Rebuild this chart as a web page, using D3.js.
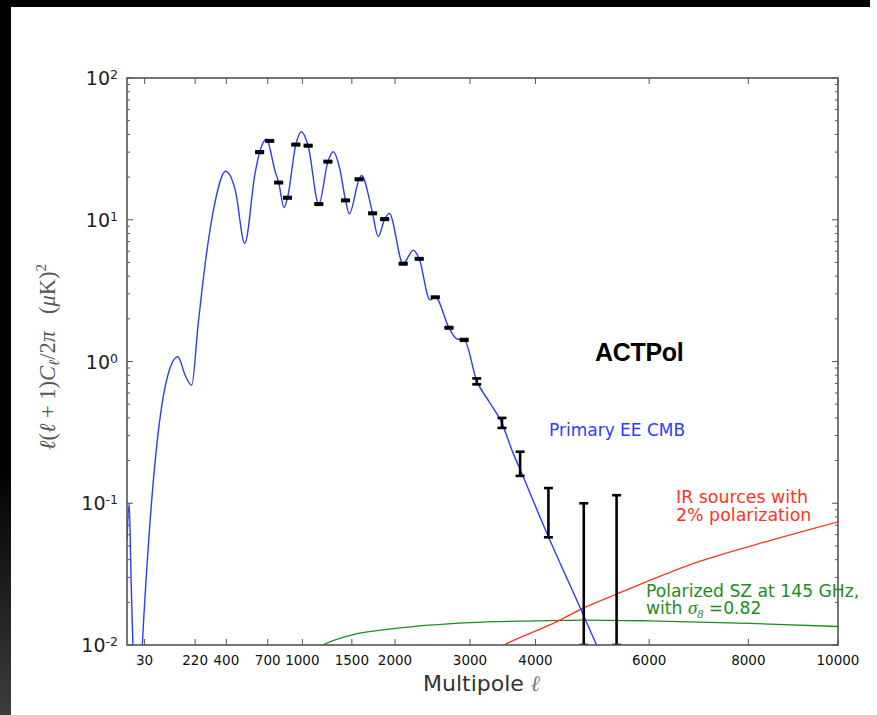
<!DOCTYPE html>
<html>
<head>
<meta charset="utf-8">
<script src="https://cdn.jsdelivr.net/npm/d3@7"></script>
<style>
  body { margin: 0; background: #fff; }
  svg { display: block; }
</style>
</head>
<body>
<svg id="chart" width="877" height="715"></svg>
<script>

// Tick values for both axes.
var xTickVals = [30, 220, 400, 700, 1000, 1500, 2000, 3000, 4000, 6000, 8000, 10000];
var yTickExps = [-2, -1, 0, 1, 2];

// Primary EE CMB model curve.
var eeEll = [2, 4, 6, 8.4, 14, 25, 40, 72, 100, 140, 172, 203, 235, 276, 328, 395, 460, 525, 600, 636,
             689, 760, 790, 836, 866, 940, 990, 1054, 1157, 1248, 1301, 1370, 1432, 1472, 1580, 1606,
             1733, 1797, 1875, 1930, 2100, 2228, 2305, 2446, 2516, 2703, 2814, 2916, 3097, 3280, 3474, 3625,
             3772, 4211, 4740, 5036, 5400];
var eeVal = [0.055, 0.1, 0.03, 0.01, 0.0012, 0.01, 0.055, 0.386, 0.8, 1.08, 0.8, 0.68, 1.8, 5.2, 13, 22, 16, 6.8, 21, 30,
             37, 22, 18.3, 12.2, 14.3, 33.9, 41.8, 33.3, 12.9, 25.7, 30.2, 23, 13.7, 11.0, 19.3, 20.5,
             11.1, 7.6, 10.1, 11.1, 4.9, 6.1, 5.3, 2.72, 2.85, 1.73, 1.44, 1.42, 0.73, 0.52, 0.366, 0.238,
             0.166, 0.058, 0.0186, 0.01, 0.005];

// ACTPol forecast band powers (error bars).
var binEll = [636, 716, 790, 866, 940, 1054, 1157, 1248, 1432, 1580, 1733, 1875, 2101, 2305, 2516, 2703,
              2916, 3097, 3474, 3755, 4211, 4810, 5394];
var binLo = [29.6, 35.6, 18.1, 14.13, 33.5, 32.9, 12.75, 25.4, 13.54, 19.07, 10.97, 9.98, 4.84, 5.24, 2.81, 1.71,
             1.40, 0.69, 0.34, 0.156, 0.0575, 0.01, 0.01];
var binHi = [30.4, 36.4, 18.5, 14.47, 34.3, 33.7, 13.05, 26.0, 13.86, 19.53, 11.23, 10.22, 4.96, 5.36, 2.87, 1.75,
             1.44, 0.76, 0.40, 0.231, 0.128, 0.1, 0.114];

// IR sources with 2% polarization.
var irEll = [3000, 3500, 4350, 4800, 5400, 7000, 8500, 10000];
var irVal = [0.0075, 0.01, 0.0146, 0.0182, 0.0229, 0.039, 0.055, 0.074];

// Polarized SZ at 145 GHz.
var szEll = [1000, 1199, 1503, 2005, 3000, 4000, 4810, 6000, 8000, 10000];
var szVal = [0.008, 0.01, 0.0118, 0.0131, 0.0144, 0.0148, 0.015, 0.0148, 0.0142, 0.0135];

var svg = d3.select('#chart');
var W = 877, H = 715;
var plotL = 127, plotR = 838, plotT = 78, plotB = 645;

var blue = '#2a3cff', red = '#ff3322', green = '#1e8c1e', axisCol = '#555';

// Dark frame round the slide.
var defs = svg.append('defs');
var grad = defs.append('linearGradient')
  .attr('id', 'sideGrad').attr('x1', 0).attr('y1', 0).attr('x2', 0).attr('y2', 1);
grad.append('stop').attr('offset', '0').attr('stop-color', '#000');
grad.append('stop').attr('offset', '0.65').attr('stop-color', '#000');
grad.append('stop').attr('offset', '1').attr('stop-color', '#3c3c3c');

svg.append('rect').attr('x', 0).attr('y', 0).attr('width', W).attr('height', H).attr('fill', '#fff');
svg.append('rect').attr('x', 0).attr('y', 0).attr('width', 870).attr('height', 7).attr('fill', '#000');
svg.append('rect').attr('x', 0).attr('y', 0).attr('width', 11).attr('height', H).attr('fill', 'url(#sideGrad)');

// Scales: x is linear in ell^0.6, y is logarithmic.
var x = d3.scalePow().exponent(0.6).domain([2, 10000]).range([plotL, plotR]);
var y = d3.scaleLog().domain([0.01, 100]).range([plotB, plotT]);

defs.append('clipPath').attr('id', 'plotClip')
  .append('rect').attr('x', plotL).attr('y', plotT).attr('width', plotR - plotL).attr('height', plotB - plotT);

var plot = svg.append('g').attr('clip-path', 'url(#plotClip)');

var line = d3.line()
  .x(function(d) { return x(d[0]); })
  .y(function(d) { return y(d[1]); })
  .curve(d3.curveMonotoneX);

// Foreground lines.
plot.append('path').datum(d3.zip(szEll, szVal))
  .attr('d', line).attr('fill', 'none').attr('stroke', green).attr('stroke-width', 1.3);
plot.append('path').datum(d3.zip(irEll, irVal))
  .attr('d', line).attr('fill', 'none').attr('stroke', red).attr('stroke-width', 1.3);
plot.append('path').datum(d3.zip(eeEll, eeVal))
  .attr('d', line).attr('fill', 'none').attr('stroke', blue).attr('stroke-width', 1.4);

// Error bars.
var bars = plot.selectAll('.bar').data(d3.zip(binEll, binLo, binHi))
  .enter().append('g').attr('class', 'bar')
  .attr('stroke', '#000').attr('stroke-width', 2.6);
bars.append('line')
  .attr('x1', function(d) { return x(d[0]); }).attr('x2', function(d) { return x(d[0]); })
  .attr('y1', function(d) { return y(d[1]); }).attr('y2', function(d) { return y(d[2]); });
bars.append('line')
  .attr('x1', function(d) { return x(d[0]) - 4.5; }).attr('x2', function(d) { return x(d[0]) + 4.5; })
  .attr('y1', function(d) { return y(d[1]); }).attr('y2', function(d) { return y(d[1]); });
bars.append('line')
  .attr('x1', function(d) { return x(d[0]) - 4.5; }).attr('x2', function(d) { return x(d[0]) + 4.5; })
  .attr('y1', function(d) { return y(d[2]); }).attr('y2', function(d) { return y(d[2]); });

// Axes box, ticks pointing inward.
svg.append('rect').attr('x', plotL).attr('y', plotT).attr('width', plotR - plotL).attr('height', plotB - plotT)
  .attr('fill', 'none').attr('stroke', axisCol).attr('stroke-width', 1.6);

var xt = svg.append('g').attr('stroke', axisCol).attr('stroke-width', 1);
xTickVals.forEach(function(v) {
  xt.append('line').attr('x1', x(v)).attr('x2', x(v)).attr('y1', plotB).attr('y2', plotB - 6);
  xt.append('line').attr('x1', x(v)).attr('x2', x(v)).attr('y1', plotT).attr('y2', plotT + 6);
});

var minor = [];
yTickExps.forEach(function(e) {
  if (e < 2) d3.range(2, 10).forEach(function(m) { minor.push(m * Math.pow(10, e)); });
});
var yt = svg.append('g').attr('stroke', axisCol).attr('stroke-width', 1);
yTickExps.forEach(function(e) {
  var yy = y(Math.pow(10, e));
  yt.append('line').attr('x1', plotL).attr('x2', plotL + 6).attr('y1', yy).attr('y2', yy);
  yt.append('line').attr('x1', plotR).attr('x2', plotR - 6).attr('y1', yy).attr('y2', yy);
});
minor.forEach(function(v) {
  yt.append('line').attr('x1', plotL).attr('x2', plotL + 3).attr('y1', y(v)).attr('y2', y(v));
  yt.append('line').attr('x1', plotR).attr('x2', plotR - 3).attr('y1', y(v)).attr('y2', y(v));
});

// Tick labels.
svg.append('g').selectAll('text').data(xTickVals).enter().append('text')
  .attr('x', function(d) { return x(d); }).attr('y', 665)
  .attr('text-anchor', 'middle')
  .attr('font-family', 'DejaVu Sans, sans-serif').attr('font-size', 13.5).attr('fill', '#111')
  .text(function(d) { return d; });

var yl = svg.append('g').selectAll('text').data(yTickExps).enter().append('text')
  .attr('x', 118).attr('y', function(d) { return y(Math.pow(10, d)) + 7; })
  .attr('text-anchor', 'end')
  .attr('font-family', 'DejaVu Sans, sans-serif').attr('font-size', 19).attr('fill', '#222');
yl.append('tspan').text('10');
yl.append('tspan').attr('dy', -6).attr('font-size', 12.5).text(function(d) { return d < 0 ? '-' + (-d) : d; });

// Axis titles.
var xl = svg.append('text').attr('x', 423).attr('y', 691)
  .attr('font-family', 'DejaVu Sans, sans-serif').attr('font-size', 22).attr('fill', '#333');
xl.append('tspan').text('Multipole ');
xl.append('tspan').attr('font-family', 'Liberation Serif, serif').attr('font-style', 'italic')
  .attr('fill', '#777').text('ℓ');

var ylab = svg.append('text')
  .attr('transform', 'translate(55,357) rotate(-90)')
  .attr('text-anchor', 'middle')
  .attr('font-family', 'Liberation Serif, serif').attr('font-size', 22.5).attr('fill', '#555');
ylab.append('tspan').attr('font-style', 'italic').text('ℓ');
ylab.append('tspan').text('(');
ylab.append('tspan').attr('font-style', 'italic').text('ℓ');
ylab.append('tspan').text(' + 1)');
ylab.append('tspan').attr('font-style', 'italic').text('C');
ylab.append('tspan').attr('font-style', 'italic').attr('font-size', 15).attr('dy', 4).text('ℓ');
ylab.append('tspan').attr('dy', -4).text('/2');
ylab.append('tspan').attr('font-style', 'italic').text('π');
ylab.append('tspan').text('\u00a0\u00a0\u00a0(');
ylab.append('tspan').attr('font-style', 'italic').text('μ');
ylab.append('tspan').text('K)');
ylab.append('tspan').attr('font-size', 15).attr('dy', -9).text('2');

// Annotations.
svg.append('text').attr('x', 595).attr('y', 361)
  .attr('font-family', 'Liberation Sans, Arial, sans-serif').attr('font-weight', 'bold')
  .attr('font-size', 25).attr('letter-spacing', -0.3).attr('fill', '#000').text('ACTPol');

svg.append('text').attr('x', 549).attr('y', 436)
  .attr('font-family', 'DejaVu Sans, sans-serif').attr('font-size', 17).attr('fill', blue)
  .text('Primary EE CMB');

var irText = svg.append('text')
  .attr('font-family', 'DejaVu Sans, sans-serif').attr('font-size', 17.4).attr('fill', red);
irText.append('tspan').attr('x', 676).attr('y', 503).text('IR sources with');
irText.append('tspan').attr('x', 676).attr('y', 521).text('2% polarization');

var szText = svg.append('text')
  .attr('font-family', 'DejaVu Sans, sans-serif').attr('font-size', 17.2).attr('fill', green);
szText.append('tspan').attr('x', 646).attr('y', 597).text('Polarized SZ at 145 GHz,');
szText.append('tspan').attr('x', 646).attr('y', 614).text('with ');
szText.append('tspan').attr('font-family', 'Liberation Serif, serif').attr('font-style', 'italic')
  .attr('font-size', 19).text('σ');
szText.append('tspan').attr('font-family', 'Liberation Serif, serif').attr('font-style', 'italic')
  .attr('font-size', 12).attr('dy', 4).text('8');
szText.append('tspan').attr('dy', -4).text(' =0.82');

</script>
</body>
</html>
